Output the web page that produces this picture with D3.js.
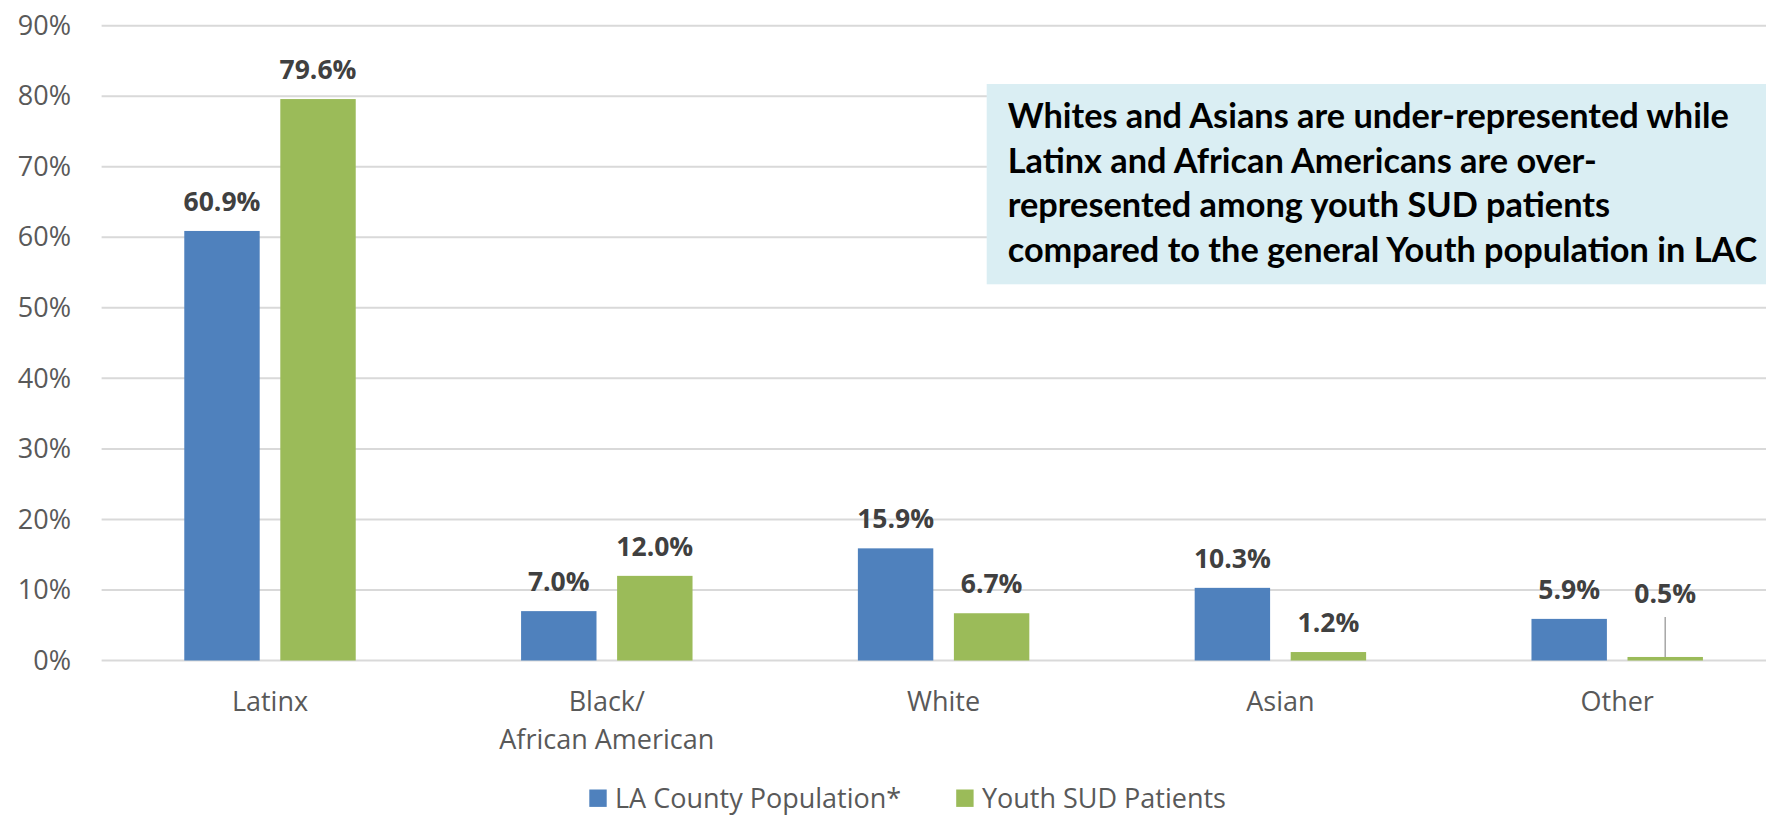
<!DOCTYPE html>
<html>
<head>
<meta charset="utf-8">
<script src="https://cdn.jsdelivr.net/npm/d3@7"></script>
<style>
  body { margin: 0; background: #fff; }
  text { font-family: "Open Sans", sans-serif; }
</style>
</head>
<body>
<script>
// chart data
const categories = ["Latinx", "Black/\nAfrican American", "White", "Asian", "Other"];
const seriesNames = ["LA County Population*", "Youth SUD Patients"];
const laCounty = [60.9, 7.0, 15.9, 10.3, 5.9];
const youthSud = [79.6, 12.0, 6.7, 1.2, 0.5];
const yTicks = [0, 10, 20, 30, 40, 50, 60, 70, 80, 90];
const noteLines = [
  "Whites and Asians are under-represented while",
  "Latinx and African Americans are over-",
  "represented among youth SUD patients",
  "compared to the general Youth population in LAC"
];

const colors = ["#4f81bd", "#9bbb59"];

const width = 1766, height = 816;

// the svg
const svg = d3.select("body")
  .append("svg")
    .attr("width", width)
    .attr("height", height);

// x scales (plot runs a little past the right edge, as in the original crop)
const x0 = d3.scaleBand()
  .domain(categories)
  .range([101.6, 1785.6])
  .padding(0);

const x1 = d3.scaleBand()
  .domain(seriesNames)
  .range([0, x0.bandwidth()])
  .paddingInner(0.2146)
  .paddingOuter(0.861);

// y scale
const y = d3.scaleLinear()
  .domain([0, 90])
  .range([660.5, 25.7]);

// gridlines
svg.append("g")
  .selectAll("line")
  .data(yTicks)
  .enter()
  .append("line")
    .attr("x1", 101.6)
    .attr("x2", width)
    .attr("y1", d => y(d))
    .attr("y2", d => y(d))
    .attr("stroke", "#d9d9d9")
    .attr("stroke-width", 2);

// y axis labels
const yAxis = svg.append("g")
  .attr("transform", "translate(71,0)")
  .call(d3.axisLeft(y).tickValues(yTicks).tickSize(0).tickPadding(0).tickFormat(d => d + "%"));
yAxis.select(".domain").remove();
yAxis.selectAll("text")
  .style("font-family", "'Open Sans', sans-serif")
  .style("font-size", "27px")
  .attr("fill", "#595959");

// x axis labels (with line breaks)
const xLab = svg.append("g")
  .selectAll("text")
  .data(categories)
  .enter()
  .append("text")
    .attr("x", d => x0(d) + x0.bandwidth() / 2)
    .attr("y", 711)
    .attr("text-anchor", "middle")
    .style("font-size", "27px")
    .attr("fill", "#595959");
xLab.each(function(d) {
  const parts = d.split("\n");
  d3.select(this).selectAll("tspan")
    .data(parts)
    .enter()
    .append("tspan")
      .attr("x", x0(d) + x0.bandwidth() / 2)
      .attr("dy", (p, i) => i === 0 ? 0 : 38)
      .text(p => p);
});

// build rows for the bars
const rows = [];
categories.forEach((c, i) => {
  rows.push({cat: c, series: seriesNames[0], value: laCounty[i], color: colors[0]});
  rows.push({cat: c, series: seriesNames[1], value: youthSud[i], color: colors[1]});
});

// bars
svg.append("g")
  .selectAll("rect")
  .data(rows)
  .enter()
  .append("rect")
    .attr("x", d => x0(d.cat) + x1(d.series))
    .attr("y", d => y(d.value))
    .attr("width", x1.bandwidth())
    .attr("height", d => y(0) - y(d.value))
    .attr("fill", d => d.color);

// labels; the tiny "Other" patient bar gets its label lifted with a leader line
const lifted = d => d.cat === "Other" && d.series === seriesNames[1];

svg.append("g")
  .selectAll("text")
  .data(rows)
  .enter()
  .append("text")
    .attr("x", d => x0(d.cat) + x1(d.series) + x1.bandwidth() / 2)
    .attr("y", d => lifted(d) ? y(d.value) - 54 : y(d.value) - 20)
    .attr("text-anchor", "middle")
    .style("font-size", "26.5px")
    .style("font-weight", "bold")
    .attr("fill", "#404040")
    .text(d => d.value.toFixed(1) + "%");

svg.append("g")
  .selectAll("line")
  .data(rows.filter(lifted))
  .enter()
  .append("line")
    .attr("x1", d => x0(d.cat) + x1(d.series) + x1.bandwidth() / 2)
    .attr("x2", d => x0(d.cat) + x1(d.series) + x1.bandwidth() / 2)
    .attr("y1", d => y(d.value) - 40)
    .attr("y2", d => y(d.value))
    .attr("stroke", "#a6a6a6")
    .attr("stroke-width", 1.5);

// annotation box
svg.append("rect")
  .attr("x", 986.7)
  .attr("y", 84)
  .attr("width", 820)
  .attr("height", 200.3)
  .attr("fill", "#daeef3");

svg.append("g")
  .selectAll("text")
  .data(noteLines)
  .enter()
  .append("text")
    .attr("x", 1007.7)
    .attr("y", (d, i) => 128.3 + i * 44.5)
    .style("font-family", "Lato, sans-serif")
    .style("font-size", "34.3px")
    .style("font-weight", "bold")
    .attr("fill", "#000")
    .text(d => d);

// legend (kept just inside the bottom edge)
const legend = svg.append("g");
let lx = 589.3;
seriesNames.forEach((name, i) => {
  legend.append("rect")
    .attr("x", lx)
    .attr("y", 789.5)
    .attr("width", 17.4)
    .attr("height", 17.4)
    .attr("fill", colors[i]);
  const t = legend.append("text")
    .attr("x", lx + 25.7)
    .attr("y", 808)
    .style("font-size", "27px")
    .attr("fill", "#595959")
    .text(name);
  lx = lx + 25.7 + t.node().getComputedTextLength() + 55;
});
</script>
</body>
</html>
